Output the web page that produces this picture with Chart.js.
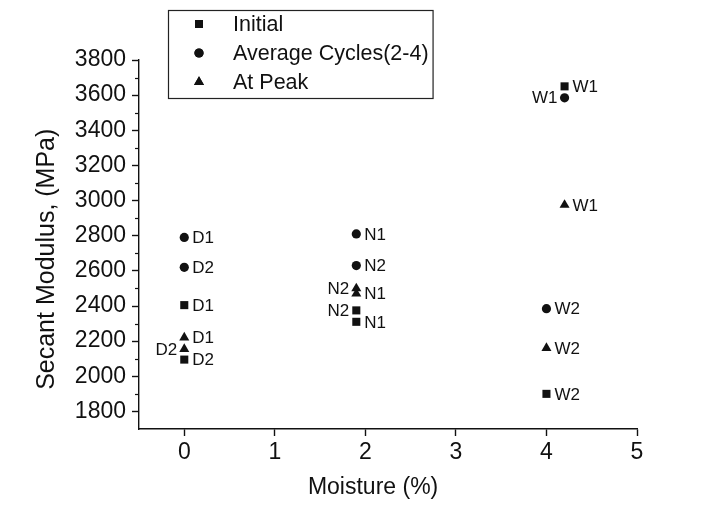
<!DOCTYPE html>
<html>
<head>
<meta charset="utf-8">
<script src="https://cdn.jsdelivr.net/npm/chart.js@4/dist/chart.umd.min.js"></script>
<style>
  html, body { margin: 0; padding: 0; background: #fff; }
  #wrap { width: 721px; height: 505px; }
</style>
</head>
<body>
<div id="wrap"><canvas id="modulusChart" width="721" height="505"></canvas></div>
<script>
// Secant modulus vs moisture content, three measures per specimen
const seriesNames = ['Initial', 'Average Cycles(2-4)', 'At Peak'];
const specimens = ['D1', 'D2', 'N1', 'N2', 'W1', 'W2'];

const initialX = [0, 0, 1.9, 1.9, 4.2, 4.0];
const initialY = [2405, 2095, 2310, 2375, 3650, 1900];
const initialSide = ['r', 'r', 'r', 'l', 'r', 'r'];

const averageX = [0, 0, 1.9, 1.9, 4.2, 4.0];
const averageY = [2790, 2620, 2810, 2630, 3585, 2385];
const averageSide = ['r', 'r', 'r', 'r', 'l', 'r'];

const peakX = [0, 0, 1.9, 1.9, 4.2, 4.0];
const peakY = [2220, 2155, 2470, 2500, 2975, 2160];
const peakSide = ['r', 'l', 'r', 'l', 'r', 'r'];

const xTicks = [0, 1, 2, 3, 4, 5];
const yTicks = [1800, 2000, 2200, 2400, 2600, 2800, 3000, 3200, 3400, 3600, 3800];

const xTitle = 'Moisture (%)';
const yTitle = 'Secant Modulus, (MPa)';

const FONT = "'Liberation Sans', Arial, sans-serif";
const INK = '#111';

function toPoints(xs, ys) {
  return xs.map((x, i) => ({ x: x, y: ys[i] }));
}

const sides = [initialSide, averageSide, peakSide];

// specimen names beside each marker
const pointLabels = {
  id: 'pointLabels',
  afterDatasetsDraw(chart) {
    const ctx = chart.ctx;
    ctx.save();
    ctx.font = '17px ' + FONT;
    ctx.fillStyle = INK;
    ctx.textBaseline = 'middle';
    chart.data.datasets.forEach((ds, di) => {
      const meta = chart.getDatasetMeta(di);
      meta.data.forEach((pt, i) => {
        const side = sides[di][i];
        if (side === 'l') {
          ctx.textAlign = 'right';
          ctx.fillText(specimens[i], pt.x - 7, pt.y + 1);
        } else {
          ctx.textAlign = 'left';
          ctx.fillText(specimens[i], pt.x + 8, pt.y + 1);
        }
      });
    });
    ctx.restore();
  }
};

// short minor ticks on the y axis, plus the two axis titles
const axisExtras = {
  id: 'axisExtras',
  afterDraw(chart) {
    const y = chart.scales.y;
    const x = chart.scales.x;
    const ctx = chart.ctx;
    ctx.save();
    ctx.strokeStyle = INK;
    ctx.lineWidth = 1.2;
    for (let v = 1900; v < 3800; v += 200) {
      const py = Math.round(y.getPixelForValue(v)) + 0.5;
      ctx.beginPath();
      ctx.moveTo(y.right - 4, py);
      ctx.lineTo(y.right, py);
      ctx.stroke();
    }

    ctx.fillStyle = INK;
    ctx.textAlign = 'center';
    ctx.textBaseline = 'middle';
    ctx.font = '23px ' + FONT;
    ctx.fillText(xTitle, x.left + 0.47 * x.width, x.bottom - 17);

    ctx.font = '25px ' + FONT;
    ctx.translate(y.left + 47, y.top + 0.54 * y.height);
    ctx.rotate(-Math.PI / 2);
    ctx.fillText(yTitle, 0, 0);
    ctx.restore();
  }
};

// boxed legend inside the top of the plot
const boxLegend = {
  id: 'boxLegend',
  afterDraw(chart) {
    const ctx = chart.ctx;
    const left = 168, top = 10, rowH = 29;
    ctx.save();
    ctx.font = '21.5px ' + FONT;
    let w = 0;
    seriesNames.forEach(n => { w = Math.max(w, ctx.measureText(n).width); });
    ctx.strokeStyle = '#222';
    ctx.lineWidth = 1.2;
    ctx.strokeRect(left + 0.5, top + 0.5, 65 + w + 4, 88);
    chart.data.datasets.forEach((ds, i) => {
      const cy = top + 14 + i * rowH;
      Chart.helpers.drawPoint(ctx, {
        pointStyle: ds.pointStyle,
        radius: ds.pointRadius,
        borderWidth: 0
      }, left + 31, cy);
      ctx.fillStyle = INK;
      ctx.fill();
      ctx.textBaseline = 'middle';
      ctx.textAlign = 'left';
      ctx.fillText(seriesNames[i], left + 65, cy + 1);
    });
    ctx.restore();
  }
};

const ctx = document.getElementById('modulusChart').getContext('2d');
new Chart(ctx, {
  type: 'scatter',
  data: {
    datasets: [
      {
        label: seriesNames[0],
        data: toPoints(initialX, initialY),
        pointStyle: 'rect',
        pointRadius: 5.7,
        backgroundColor: INK,
        borderWidth: 0
      },
      {
        label: seriesNames[1],
        data: toPoints(averageX, averageY),
        pointStyle: 'circle',
        pointRadius: 4.6,
        backgroundColor: INK,
        borderWidth: 0
      },
      {
        label: seriesNames[2],
        data: toPoints(peakX, peakY),
        pointStyle: 'triangle',
        pointRadius: 5.8,
        backgroundColor: INK,
        borderWidth: 0
      }
    ]
  },
  options: {
    responsive: false,
    animation: false,
    layout: { padding: { top: 60, right: 84, left: 0, bottom: 0 } },
    plugins: {
      legend: { display: false },
      tooltip: { enabled: false }
    },
    scales: {
      x: {
        type: 'linear',
        min: -0.5,
        max: 5,
        afterFit: s => { s.height = 76; },
        afterBuildTicks: s => { s.ticks = xTicks.map(v => ({ value: v })); },
        border: { color: INK, width: 1.4 },
        grid: { drawOnChartArea: false, drawTicks: true, tickLength: 7, tickColor: INK, tickWidth: 1.4 },
        ticks: { color: INK, font: { family: FONT, size: 23 }, padding: 3, callback: v => String(v) }
      },
      y: {
        type: 'linear',
        min: 1700,
        max: 3800,
        afterFit: s => { s.width = 139; },
        afterBuildTicks: s => { s.ticks = yTicks.map(v => ({ value: v })); },
        border: { color: INK, width: 1.4 },
        grid: { drawOnChartArea: false, drawTicks: true, tickLength: 7, tickColor: INK, tickWidth: 1.4 },
        ticks: { color: INK, font: { family: FONT, size: 23 }, padding: 6, callback: v => String(v) }
      }
    }
  },
  plugins: [pointLabels, axisExtras, boxLegend]
});
</script>
</body>
</html>
